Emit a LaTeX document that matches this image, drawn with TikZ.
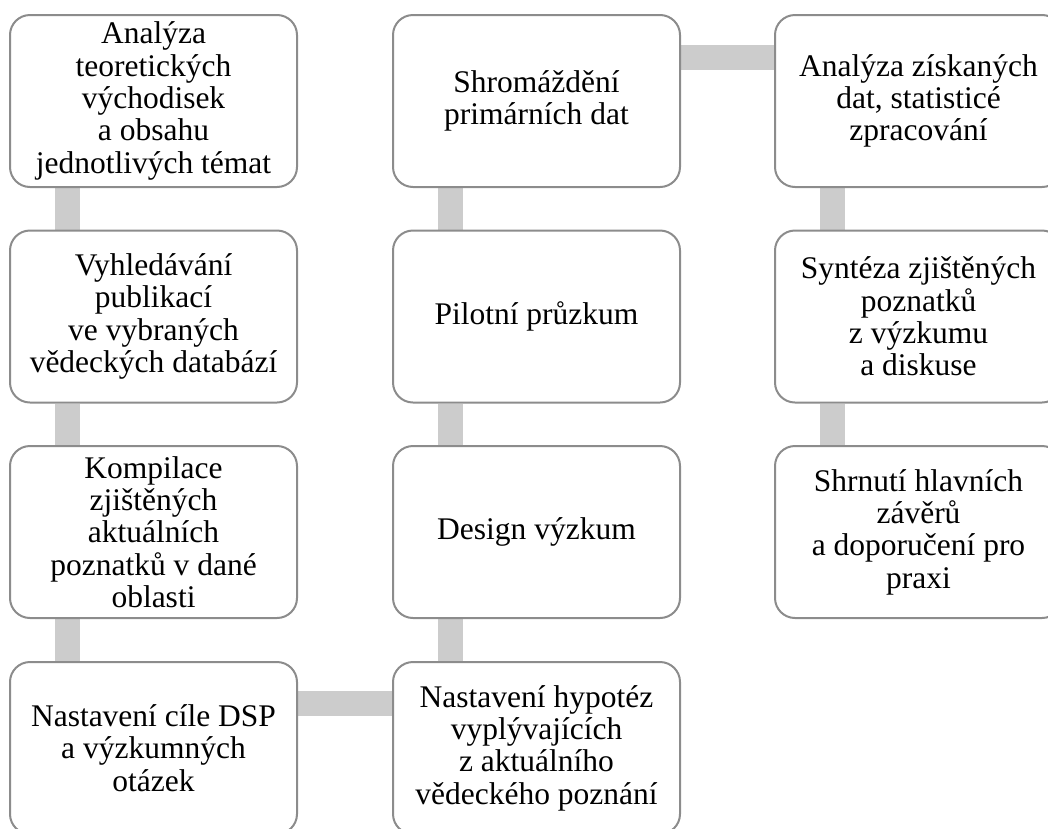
\documentclass[tikz,border=0pt]{standalone}
\usepackage{fontspec}
\setmainfont{Liberation Serif}
\usetikzlibrary{backgrounds}
\definecolor{boxline}{RGB}{140,140,140}
\definecolor{connfill}{RGB}{204,204,204}
\begin{document}
\begin{tikzpicture}[x=1pt,y=-1pt,
  stepbox/.style={draw=boxline, line width=2pt, fill=white, rounded corners=20pt,
    minimum width=287pt, minimum height=172pt, align=center, inner sep=4pt,
    font=\fontsize{31.5}{32.3}\selectfont},
  conn/.style={draw=connfill, line width=25pt}]
\useasboundingbox (0,0) rectangle (1048,828);
% column 1
\node[stepbox] (a1) at (153.5,101) {Analýza\\teoretických\\východisek\\a obsahu\\jednotlivých témat};
\node[stepbox] (a2) at (153.5,316.5) {Vyhledávání\\publikací\\ve vybraných\\vědeckých databází};
\node[stepbox] (a3) at (153.5,532) {Kompilace\\zjištěných\\aktuálních\\poznatků v dané\\oblasti};
\node[stepbox] (a4) at (153.5,748) {Nastavení cíle DSP\\a výzkumných\\otázek};
% column 2
\node[stepbox] (b1) at (536.5,101) {Shromáždění\\primárních dat};
\node[stepbox] (b2) at (536.5,316.5) {Pilotní průzkum};
\node[stepbox] (b3) at (536.5,532) {Design výzkum};
\node[stepbox] (b4) at (536.5,748) {Nastavení hypotéz\\vyplývajících\\z aktuálního\\vědeckého poznání};
% column 3
\node[stepbox] (c1) at (918.5,101) {Analýza získaných\\dat, statisticé\\zpracování};
\node[stepbox] (c2) at (918.5,316.5) {Syntéza zjištěných\\poznatků\\z výzkumu\\a diskuse};
\node[stepbox] (c3) at (918.5,532) {Shrnutí hlavních\\závěrů\\a doporučení pro\\praxi};
\begin{scope}[on background layer]
\draw[conn] ([xshift=58pt]a1.south west) -- ([xshift=58pt]a2.north west);
\draw[conn] ([xshift=58pt]a2.south west) -- ([xshift=58pt]a3.north west);
\draw[conn] ([xshift=58pt]a3.south west) -- ([xshift=58pt]a4.north west);
\draw[conn] ([yshift=-42.5pt]a4.north east) -- ([yshift=-42.5pt]b4.north west);
\draw[conn] ([xshift=58pt]b4.north west) -- ([xshift=58pt]b3.south west);
\draw[conn] ([xshift=58pt]b3.north west) -- ([xshift=58pt]b2.south west);
\draw[conn] ([xshift=58pt]b2.north west) -- ([xshift=58pt]b1.south west);
\draw[conn] ([yshift=-43pt]b1.north east) -- ([yshift=-43pt]c1.north west);
\draw[conn] ([xshift=58pt]c1.south west) -- ([xshift=58pt]c2.north west);
\draw[conn] ([xshift=58pt]c2.south west) -- ([xshift=58pt]c3.north west);
\end{scope}
\end{tikzpicture}
\end{document}
